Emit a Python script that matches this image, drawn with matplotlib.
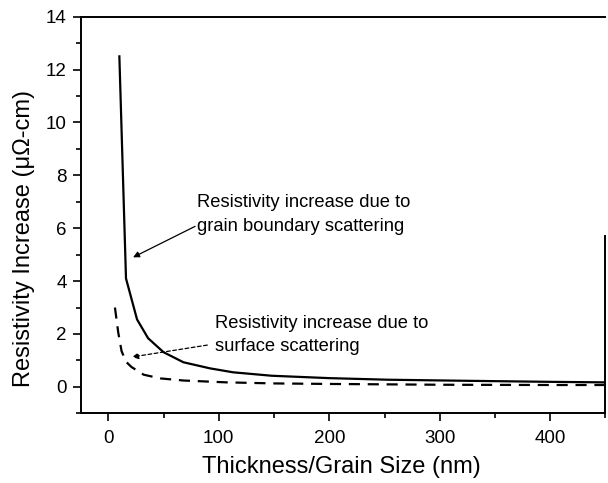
import matplotlib
matplotlib.use("Agg")
import matplotlib.pyplot as plt
from matplotlib.ticker import MultipleLocator

plt.rcParams['font.family'] = ['Liberation Sans', 'DejaVu Sans']

# Grain boundary scattering curve (solid)
gb_x = [10, 16, 26, 36, 50, 68, 92, 113, 148, 200, 253, 323, 400, 450]
gb_y = [12.5, 4.1, 2.55, 1.84, 1.31, 0.93, 0.70, 0.55, 0.42, 0.33, 0.27, 0.23, 0.19, 0.17]

# Surface scattering curve (dashed)
sf_x = [6, 9, 12, 16, 21, 32, 47, 68, 107, 150, 200, 300, 400, 450]
sf_y = [3.0, 2.05, 1.35, 0.95, 0.75, 0.46, 0.32, 0.24, 0.17, 0.13, 0.11, 0.08, 0.07, 0.07]

xlabel = "Thickness/Grain Size (nm)"
ylabel = "Resistivity Increase (\u03bc\u03a9-cm)"
gb_text = "Resistivity increase due to\ngrain boundary scattering"
sf_text = "Resistivity increase due to\nsurface scattering"

fig = plt.figure(figsize=(6.08, 4.83), dpi=100)
L, R, T, B = 80.7, 605.5, 16.7, 413.3
ax = fig.add_axes([L/608, (483-B)/483, (R-L)/608, (B-T)/483])

ax.plot(gb_x, gb_y, color='black', lw=1.6, solid_joinstyle='miter')
ax.plot(sf_x, sf_y, color='black', lw=1.6, linestyle=(0, (5, 3.5)))

ax.set_xlim(-25, 450)
ax.set_ylim(-1, 14)
ax.xaxis.set_major_locator(MultipleLocator(100))
ax.xaxis.set_minor_locator(MultipleLocator(50))
ax.yaxis.set_major_locator(MultipleLocator(2))
ax.yaxis.set_minor_locator(MultipleLocator(1))
ax.tick_params(which='both', direction='out', width=1.2, labelsize=13.5, top=False, right=False)
ax.tick_params(which='major', length=6)
ax.tick_params(which='minor', length=3.5)
ax.tick_params(axis='x', pad=6)
ax.tick_params(axis='y', pad=4)

for s in ax.spines.values():
    s.set_linewidth(1.4)
ax.spines['right'].set_bounds(-1, 5.7)

ax.set_xlabel(xlabel, fontsize=17)
ax.set_ylabel(ylabel, fontsize=17)
ax.xaxis.set_label_coords((341-L)/(R-L), -(467-B)/(B-T))
ax.yaxis.set_label_coords(-(L-24)/(R-L), (B-238.5)/(B-T))
ax.xaxis.label.set_va('center')
ax.yaxis.label.set_va('center')

ax.text(80.5, 6.52, gb_text, fontsize=13.2, ha='left', va='center', linespacing=1.5)
ax.text(96.6, 1.96, sf_text, fontsize=13.2, ha='left', va='center', linespacing=1.5)

ax.annotate('', xy=(22.4, 4.9), xytext=(78.5, 6.07),
            arrowprops=dict(arrowstyle='-|>', color='black', lw=0.9, mutation_scale=9,
                            shrinkA=0, shrinkB=0))
ax.annotate('', xy=(21.5, 1.13), xytext=(89.6, 1.58),
            arrowprops=dict(arrowstyle='-|>', color='black', lw=0.9, mutation_scale=9,
                            linestyle=(0, (3, 2)), shrinkA=0, shrinkB=0))

fig.savefig('out.png', dpi=100)
